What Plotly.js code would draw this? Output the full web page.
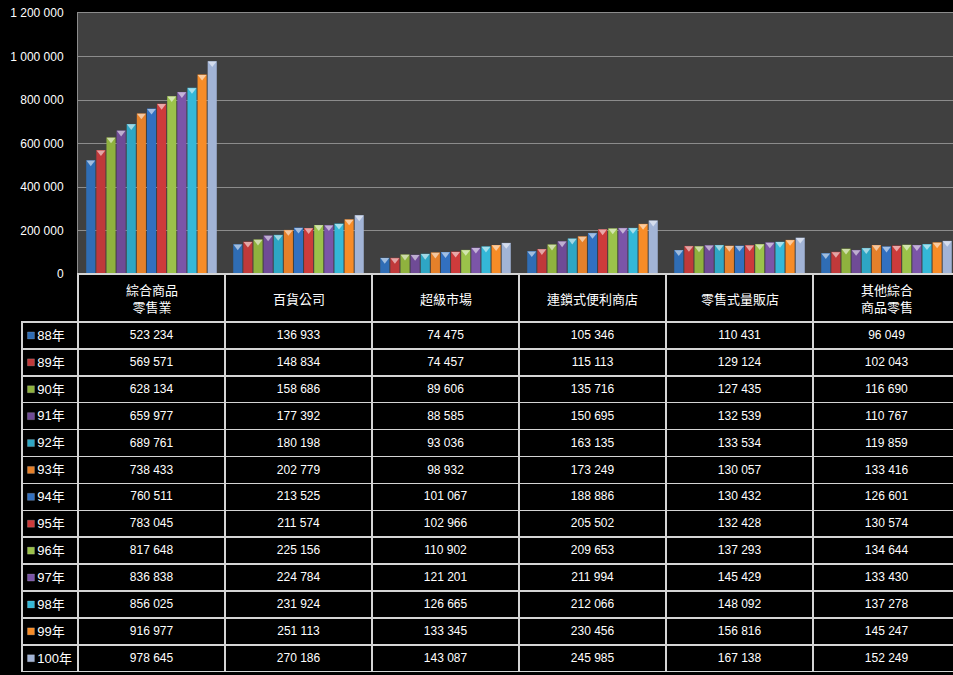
<!DOCTYPE html>
<html>
<head>
<meta charset="utf-8">
<script src="https://cdn.plot.ly/plotly-3.0.1.min.js"></script>
<style>
html,body{margin:0;padding:0;background:#000;overflow:hidden;width:953px;height:675px;}
#chart{width:960px;height:675px;}
</style>
</head>
<body>
<div id="chart"></div>
<script>
// ---- data ----
const categories = ['綜合商品零售業','百貨公司','超級市場','連鎖式便利商店','零售式量販店','其他綜合商品零售'];
const categoryLabels = ['綜合商品<br>零售業','百貨公司','超級市場','連鎖式便利商店','零售式量販店','其他綜合<br>商品零售'];
const years = ['88年','89年','90年','91年','92年','93年','94年','95年','96年','97年','98年','99年','100年'];

const generalRetail   = [523234,569571,628134,659977,689761,738433,760511,783045,817648,836838,856025,916977,978645];
const departmentStore = [136933,148834,158686,177392,180198,202779,213525,211574,225156,224784,231924,251113,270186];
const supermarket     = [74475,74457,89606,88585,93036,98932,101067,102966,110902,121201,126665,133345,143087];
const convenience     = [105346,115113,135716,150695,163135,173249,188886,205502,209653,211994,212066,230456,245985];
const hypermarket     = [110431,129124,127435,132539,133534,130057,130432,132428,137293,145429,148092,156816,167138];
const otherGeneral    = [96049,102043,116690,110767,119859,133416,126601,130574,134644,133430,137278,145247,152249];

const yTicks = [0,200000,400000,600000,800000,1000000,1200000];
// ---- end data ----

const columns = [generalRetail, departmentStore, supermarket, convenience, hypermarket, otherGeneral];
const colors = ['#2f6db5','#c0393a','#8fb23e','#6f4b96','#2ea6c4','#e5802a',
                '#3270c0','#cd3b3b','#9bc24a','#7b55a8','#34b8d8','#f78c27','#a2b4d6'];

function fmt(v){ return String(v).replace(/\B(?=(\d{3})+(?!\d))/g, ' '); }
function lighten(hex, t){
  const n = parseInt(hex.slice(1), 16);
  const r = (n >> 16) & 255, g = (n >> 8) & 255, b = n & 255;
  const f = c => Math.round(c + (255 - c) * t);
  return `rgb(${f(r)},${f(g)},${f(b)})`;
}

const W = 960, H = 675, mL = 22, mR = 0, mT = 13, mB = 3;
const paperW = W - mL - mR, paperH = H - mT - mB;
const plotLeft = 78, plotBottom = 274;
const xDom0 = (plotLeft - mL) / paperW;
const yDom0 = (H - mB - plotBottom) / paperH;
const headerH = 48, rowH = 26.9;
const legendColW = plotLeft - mL;
const catColW = (paperW - legendColW) / categories.length;
const yMax = yTicks[yTicks.length - 1];
const plotPxH = plotBottom - mT;
const capShift = 2.2 * yMax / plotPxH;   // cap sits just inside the top of each bar

const traces = years.map((yr, i) => ({
  type: 'bar',
  name: yr,
  x: categories,
  y: columns.map(col => col[i]),
  offsetgroup: yr,
  marker: {color: colors[i], line: {width: 0}},
  hoverinfo: 'skip',
  showlegend: false
}));

// lighter bevel cap on top of each bar
years.forEach((yr, i) => {
  traces.push({
    type: 'scatter', mode: 'markers',
    name: yr + ' cap',
    x: categories,
    y: columns.map(col => col[i] - capShift),
    offsetgroup: yr,
    marker: {symbol: 'triangle-down', size: 7.5, color: lighten(colors[i], 0.55), line: {width: 0}},
    hoverinfo: 'skip', showlegend: false, cliponaxis: false
  });
});

const legendCells = years.map(yr => '\u00a0\u00a0' + yr);
const cellValues = [legendCells].concat(columns.map(col => col.map(fmt)));
const nCols = categories.length + 1;
const lineColor = '#d4d4d4';

traces.push({
  type: 'table',
  domain: {x: [0, 1], y: [0, yDom0]},
  columnwidth: [legendColW].concat(categories.map(() => catColW)),
  header: {
    values: Array(nCols).fill(''),
    height: headerH,
    fill: {color: ['rgba(0,0,0,0)'].concat(categories.map(() => '#000'))},
    line: {color: ['rgba(0,0,0,0)'].concat(categories.map(() => lineColor)), width: [0].concat(categories.map(() => 1.5))}
  },
  cells: {
    values: cellValues,
    height: rowH,
    align: ['left'].concat(categories.map(() => 'center')),
    fill: {color: ['rgba(0,0,0,0)'].concat(categories.map(() => '#000'))},
    line: {color: lineColor, width: 1.5},
    font: {color: '#ffffff', size: [13].concat(categories.map(() => 12)),
           family: 'Liberation Sans, "Noto Sans CJK TC", sans-serif'}
  },
  hoverinfo: 'skip'
});

// legend colour keys in the first table column
const rowsTop = (H - mB - plotBottom - headerH) / paperH;
const rowsBottom = (H - mB - plotBottom - headerH - rowH * years.length) / paperH;
traces.push({
  type: 'scatter', mode: 'markers',
  xaxis: 'x2', yaxis: 'y2',
  x: years.map(() => 0.16),
  y: years,
  marker: {symbol: 'square', size: 7, color: colors, line: {color: 'rgba(255,255,255,0.35)', width: 0.5}},
  hoverinfo: 'skip', showlegend: false, cliponaxis: false
});

const headerY = (H - mB - plotBottom - headerH / 2) / paperH;
const annotations = categories.map((c, i) => ({
  xref: 'x', yref: 'paper', x: c, y: headerY,
  text: categoryLabels[i], showarrow: false,
  xanchor: 'center', yanchor: 'middle',
  font: {color: '#ffffff', size: 13, family: '"Noto Sans CJK TC", sans-serif'}
}));

const layout = {
  width: W, height: H,
  margin: {l: mL, r: mR, t: mT, b: mB, pad: 0},
  paper_bgcolor: '#000000',
  plot_bgcolor: 'rgba(0,0,0,0)',
  separators: '. ',
  barmode: 'group',
  bargap: 0.105,
  bargroupgap: 0.1,
  scattermode: 'group',
  scattergap: 0.105,
  showlegend: false,
  shapes: [{
    type: 'rect', xref: 'x domain', yref: 'y domain', x0: 0, x1: 1, y0: 0, y1: 1,
    fillcolor: '#404040', line: {width: 0}, layer: 'below'
  }],
  xaxis: {
    domain: [xDom0, 1], type: 'category', range: [-0.5, categories.length - 0.5],
    showticklabels: false, ticks: '', showgrid: false, zeroline: false,
    showline: true, linecolor: '#8c8c8c', linewidth: 1, mirror: true, fixedrange: true
  },
  yaxis: {
    domain: [yDom0, 1], range: [0, yMax], tickvals: yTicks, tickformat: ',d',
    showgrid: true, gridcolor: '#8c8c8c', gridwidth: 1, zeroline: false,
    showline: true, linecolor: '#8c8c8c', linewidth: 1, mirror: true,
    ticks: 'outside', ticklen: 11, tickcolor: 'rgba(0,0,0,0)',
    tickfont: {color: '#ffffff', size: 12, family: 'Liberation Sans, sans-serif'},
    fixedrange: true
  },
  xaxis2: {
    domain: [0, xDom0], range: [0, 1], anchor: 'y2',
    visible: false, showgrid: false, zeroline: false, fixedrange: true
  },
  yaxis2: {
    domain: [Math.max(0, rowsBottom), rowsTop], type: 'category', anchor: 'x2',
    range: [years.length - 0.5, -0.5],
    visible: false, showgrid: false, zeroline: false, fixedrange: true
  },
  annotations: annotations
};

Plotly.newPlot('chart', traces, layout, {staticPlot: true, displayModeBar: false});
</script>
</body>
</html>
